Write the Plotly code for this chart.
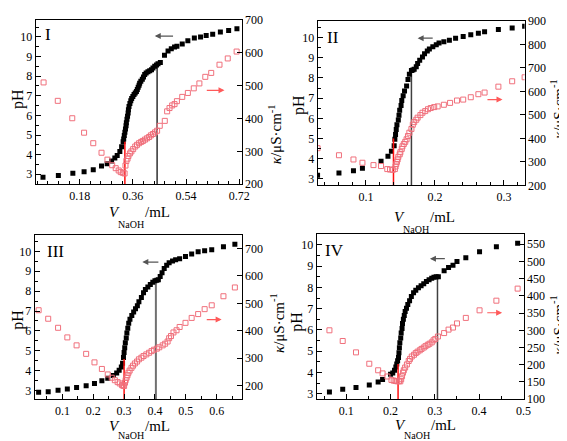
import plotly.graph_objects as go

# ---------------- data ----------------
# Panel I
xI_ph = [0.056,0.108,0.157,0.195,0.226,0.254,0.273,0.288,0.299,0.307,0.316,0.322,0.327,0.329,0.331,0.333,0.335,0.337,0.338,0.340,0.342,0.344,0.345,0.347,0.350,0.353,0.356,0.360,0.364,0.368,0.372,0.375,0.378,0.381,0.383,0.387,0.392,0.396,0.400,0.405,0.411,0.417,0.423,0.428,0.434,0.440,0.445,0.453,0.467,0.479,0.490,0.501,0.509,0.527,0.546,0.568,0.589,0.608,0.630,0.656,0.684,0.712]
pH_I = [2.85,2.93,3.05,3.13,3.23,3.42,3.54,3.67,3.83,3.96,4.16,4.40,4.65,4.80,4.98,5.14,5.31,5.47,5.63,5.80,5.96,6.12,6.29,6.45,6.61,6.74,6.86,6.96,7.06,7.14,7.22,7.32,7.43,7.53,7.64,7.74,7.84,7.96,8.09,8.16,8.22,8.28,8.33,8.41,8.50,8.57,8.63,8.69,9.07,9.28,9.40,9.48,9.52,9.64,9.80,9.94,10.0,10.07,10.13,10.25,10.33,10.41]
xI_k = [0.058,0.106,0.155,0.195,0.226,0.254,0.274,0.290,0.302,0.312,0.319,0.326,0.332,0.335,0.338,0.342,0.345,0.350,0.355,0.361,0.368,0.374,0.381,0.388,0.394,0.401,0.408,0.415,0.421,0.428,0.435,0.442,0.451,0.468,0.476,0.484,0.493,0.501,0.509,0.527,0.546,0.566,0.585,0.605,0.625,0.653,0.681,0.711]
k_I = [510,454,401,357,325,296,275,258,249,242,237,235,233,257,271,278,286,294,300,307,315,320,325,329,332,336,340,344,349,353,358,363,378,393,422,432,440,444,453,466,478,492,507,527,539,564,583,604]

# Panel II
xII_ph = [0.030,0.061,0.082,0.095,0.122,0.132,0.137,0.141,0.142,0.143,0.144,0.145,0.147,0.148,0.149,0.151,0.152,0.154,0.156,0.159,0.161,0.163,0.166,0.168,0.170,0.173,0.175,0.178,0.182,0.185,0.189,0.192,0.197,0.202,0.206,0.213,0.221,0.230,0.241,0.252,0.263,0.272,0.292,0.312,0.330]
pH_II = [3.18,3.29,3.40,3.53,3.88,4.13,4.37,4.65,4.97,5.20,5.45,5.68,5.92,6.16,6.40,6.64,6.88,7.12,7.36,7.60,7.92,8.19,8.37,8.40,8.43,8.56,8.72,8.88,9.04,9.20,9.33,9.44,9.55,9.65,9.73,9.79,9.87,9.97,10.05,10.14,10.21,10.29,10.40,10.48,10.56]
xII_k = [0.030,0.061,0.082,0.095,0.111,0.122,0.131,0.135,0.139,0.142,0.143,0.144,0.145,0.146,0.147,0.149,0.150,0.152,0.153,0.155,0.157,0.159,0.161,0.163,0.166,0.168,0.170,0.173,0.175,0.179,0.182,0.186,0.190,0.194,0.199,0.204,0.213,0.222,0.232,0.241,0.252,0.263,0.272,0.292,0.312,0.330]
k_II = [358,328,310,296,286,282,269,267,266,269,280,291,300,310,321,332,341,355,366,376,385,396,410,424,440,458,469,479,488,499,509,516,524,529,533,536,543,551,561,565,575,588,595,620,643,660]

# Panel III
xIII_ph = [0.023,0.054,0.086,0.116,0.146,0.177,0.204,0.228,0.247,0.265,0.276,0.284,0.291,0.295,0.298,0.300,0.302,0.304,0.307,0.309,0.312,0.315,0.319,0.325,0.331,0.337,0.343,0.348,0.356,0.363,0.369,0.377,0.385,0.393,0.400,0.406,0.411,0.417,0.423,0.430,0.438,0.446,0.457,0.467,0.480,0.499,0.519,0.540,0.561,0.584,0.622,0.659]
pH_III = [2.92,2.95,3.02,3.08,3.16,3.24,3.36,3.50,3.62,3.76,3.89,4.02,4.19,4.38,4.67,4.92,5.16,5.40,5.65,5.89,6.13,6.38,6.59,6.78,6.95,7.11,7.27,7.46,7.68,7.92,8.08,8.21,8.33,8.44,8.52,8.54,8.57,8.73,8.92,9.14,9.30,9.43,9.51,9.58,9.63,9.74,9.87,9.98,10.03,10.08,10.23,10.36]
xIII_k = [0.023,0.054,0.086,0.116,0.146,0.177,0.204,0.228,0.247,0.260,0.270,0.279,0.286,0.293,0.297,0.300,0.303,0.305,0.308,0.311,0.314,0.318,0.324,0.329,0.335,0.342,0.348,0.356,0.363,0.372,0.381,0.389,0.397,0.406,0.414,0.425,0.433,0.441,0.446,0.452,0.460,0.470,0.480,0.499,0.519,0.540,0.561,0.584,0.622,0.659]
k_III = [475,444,411,376,347,316,285,261,241,229,220,213,208,202,200,199,211,220,229,238,247,255,265,273,281,288,296,302,308,314,320,326,331,335,340,347,353,361,373,381,394,402,414,429,447,461,479,493,526,558]

# Panel IV
xIV_ph = [0.062,0.092,0.122,0.152,0.172,0.182,0.200,0.205,0.209,0.212,0.214,0.216,0.218,0.219,0.220,0.221,0.223,0.224,0.226,0.227,0.229,0.231,0.233,0.236,0.239,0.243,0.247,0.252,0.257,0.263,0.269,0.275,0.281,0.287,0.293,0.298,0.303,0.308,0.321,0.331,0.341,0.350,0.370,0.401,0.439,0.487]
pH_IV = [3.08,3.21,3.29,3.41,3.55,3.67,3.91,3.97,4.10,4.25,4.40,4.55,4.70,4.93,5.16,5.39,5.62,5.85,6.07,6.30,6.50,6.68,6.87,7.02,7.20,7.37,7.57,7.75,7.87,7.98,8.08,8.17,8.28,8.36,8.43,8.48,8.50,8.50,8.78,8.94,9.04,9.22,9.39,9.68,9.91,10.08]
xIV_k = [0.062,0.092,0.122,0.152,0.172,0.182,0.193,0.202,0.207,0.211,0.215,0.219,0.222,0.224,0.226,0.228,0.230,0.233,0.237,0.241,0.244,0.248,0.253,0.257,0.261,0.266,0.270,0.275,0.279,0.284,0.288,0.293,0.297,0.301,0.307,0.321,0.331,0.341,0.350,0.370,0.401,0.439,0.487]
k_IV = [300,269,236,203,184,175,166,156,154,153,152,152,152,158,167,177,184,192,201,211,217,224,229,234,238,242,246,250,254,258,261,265,271,275,282,292,302,308,320,336,358,386,421]

panel_labels = ["I", "II", "III", "IV"]
# equivalence-point markers (x, pH at top of line)
red_eq_x = [0.333, 0.140, 0.300, 0.217]
red_eq_top = [4.65, 5.0, 4.59, 4.4]
grey_eq_x = [0.442, 0.166, 0.403, 0.306]
grey_eq_top = [8.66, 8.40, 8.55, 8.50]
# arrows: black (pH axis, pointing left), red (kappa axis, pointing right)
blk_arrow_head = [0.434, 0.175, 0.359, 0.289]
blk_arrow_tail = [0.501, 0.199, 0.416, 0.326]
blk_arrow_pH = [10.04, 9.97, 9.46, 9.35]
red_arrow_tail = [0.605, 0.274, 0.563, 0.415]
red_arrow_head = [0.670, 0.298, 0.616, 0.452]
red_arrow_k = [486, 565, 441, 351]

# x ticks
x_dtick = [0.18, 0.1, 0.1, 0.1]
x_minor = [0.036, 0.02, 0.05, 0.05]
k_dtick = [100, 100, 100, 50]

# ---------------- layout geometry (pixels) ----------------
W, H = 567, 441
frames = [  # left, right, top, bottom
    (28, 237, 5, 175),
    (314, 524, 6, 176),
    (27, 237, 227, 397),
    (313, 523, 226, 397),
]
x_ranges = [[0.031, 0.728], [0.030, 0.330], [0.010, 0.681], [0.033, 0.5005]]
ph_ranges = [[2.48, 10.87], [2.68, 10.83], [2.56, 10.83], [2.73, 10.52]]
k_ranges = [[199.5, 700.5], [199.5, 900.5], [150, 750], [99.5, 580]]
grey_colors = ["#303030", "#404040", "#707070", "#404040"]
grey_widths = [1.5, 1.5, 2.0, 1.5]

data = [
    (xI_ph, pH_I, xI_k, k_I),
    (xII_ph, pH_II, xII_k, k_II),
    (xIII_ph, pH_III, xIII_k, k_III),
    (xIV_ph, pH_IV, xIV_k, k_IV),
]

FONT = "Liberation Serif"
BLACK = "#000000"
PINK = "#f0707c"
RED = "#ff1010"

fig = go.Figure()
layout = dict(width=W, height=H, margin=dict(l=0, r=0, t=0, b=0),
              paper_bgcolor="white", plot_bgcolor="white", showlegend=False,
              font=dict(family=FONT, size=12, color="black"))
annotations = []

def px2paper(xp, yp):
    return xp / W, 1 - yp / H

for i in range(4):
    xb, yb, xr, yr = data[i]
    xname = "x" if i == 0 else f"x{i+1}"
    yph = f"y{2*i+1}" if i > 0 else "y"
    yk = f"y{2*i+2}"
    xkey = "xaxis" if i == 0 else f"xaxis{i+1}"
    yphkey = "yaxis" if i == 0 else f"yaxis{2*i+1}"
    ykkey = f"yaxis{2*i+2}"
    l, r, t, b = frames[i]
    xd = [l / W, r / W]
    yd = [1 - b / H, 1 - t / H]

    layout[xkey] = dict(domain=xd, anchor=yph, range=x_ranges[i], dtick=x_dtick[i], tick0=0,
                        showgrid=False, zeroline=False, showline=True, linecolor="black",
                        linewidth=1, mirror=True, ticks="inside", ticklen=5, tickcolor="black",
                        ticklabeloverflow="allow",
                        minor=dict(dtick=x_minor[i], tick0=0, ticks="inside", ticklen=3, tickcolor="black"),
                        tickfont=dict(family=FONT, size=12))
    layout[yphkey] = dict(domain=yd, anchor=xname, range=ph_ranges[i], dtick=1, tick0=0,
                          showgrid=False, zeroline=False, showline=True, linecolor="black",
                          linewidth=1, mirror=True, ticks="inside", ticklen=5, tickcolor="black",
                          ticklabeloverflow="allow",
                          minor=dict(dtick=0.5, tick0=0, ticks="inside", ticklen=3, tickcolor="black"),
                          tickfont=dict(family=FONT, size=12))
    layout[ykkey] = dict(domain=yd, anchor=xname, overlaying=yph, side="right",
                         range=k_ranges[i], dtick=k_dtick[i], tick0=0,
                         showgrid=False, zeroline=False, showline=True, linecolor="black",
                         linewidth=1, ticks="inside", ticklen=5, tickcolor="black",
                         ticklabeloverflow="allow",
                         tickfont=dict(family=FONT, size=12))

    # vertical equivalence lines
    fig.add_trace(go.Scatter(x=[grey_eq_x[i], grey_eq_x[i]], y=[ph_ranges[i][0], grey_eq_top[i]],
                             mode="lines", line=dict(color=grey_colors[i], width=grey_widths[i]),
                             xaxis=xname, yaxis=yph, hoverinfo="skip"))
    fig.add_trace(go.Scatter(x=xr, y=yr, mode="markers",
                             marker=dict(symbol="square-open", size=5, color=PINK, line=dict(width=1, color=PINK)),
                             xaxis=xname, yaxis=yk))
    fig.add_trace(go.Scatter(x=xb, y=yb, mode="markers",
                             marker=dict(symbol="square", size=5, color=BLACK),
                             xaxis=xname, yaxis=yph))
    fig.add_trace(go.Scatter(x=[red_eq_x[i], red_eq_x[i]], y=[ph_ranges[i][0], red_eq_top[i]],
                             mode="lines", line=dict(color=RED, width=1.5),
                             xaxis=xname, yaxis=yph, hoverinfo="skip"))

    # arrows
    annotations.append(dict(x=blk_arrow_head[i], y=blk_arrow_pH[i], ax=blk_arrow_tail[i], ay=blk_arrow_pH[i],
                            xref=xname, yref=yph, axref=xname, ayref=yph, text="", showarrow=True,
                            arrowhead=2, arrowsize=1, arrowwidth=1.2, arrowcolor="#555555"))
    annotations.append(dict(x=red_arrow_head[i], y=red_arrow_k[i], ax=red_arrow_tail[i], ay=red_arrow_k[i],
                            xref=xname, yref=yk, axref=xname, ayref=yk, text="", showarrow=True,
                            arrowhead=2, arrowsize=1, arrowwidth=1.2, arrowcolor="#ff5a5a"))

# text labels (pixel positions)
numeral_pos = [(41, 20), (330, 23), (48, 244), (331, 243)]
ph_title_pos = [(10, 87), (295, 93), (10, 315), (293, 317)]
k_title_pos = [(271, 123), (557, 97), (273, 318), (557, 320)]
v_title_pos = [(108, 203), (397, 209), (108, 424), (398, 423)]

for i in range(4):
    px, py = px2paper(*numeral_pos[i])
    annotations.append(dict(x=px, y=py, xref="paper", yref="paper", text=panel_labels[i], showarrow=False,
                            font=dict(family=FONT, size=17), xanchor="center", yanchor="middle"))
    px, py = px2paper(*ph_title_pos[i])
    annotations.append(dict(x=px, y=py, xref="paper", yref="paper", text="pH", showarrow=False, textangle=-90,
                            font=dict(family=FONT, size=16), xanchor="center", yanchor="middle"))
    px, py = px2paper(*k_title_pos[i])
    annotations.append(dict(x=px, y=py, xref="paper", yref="paper", text="<i>κ</i>/μS·cm<sup>-1</sup>",
                            showarrow=False, textangle=-90,
                            font=dict(family=FONT, size=15), xanchor="center", yanchor="middle"))
    vx, vy = v_title_pos[i]
    px, py = px2paper(vx, vy)
    annotations.append(dict(x=px, y=py, xref="paper", yref="paper", text="<i>V</i>", showarrow=False,
                            font=dict(family=FONT, size=15), xanchor="center", yanchor="middle"))
    px, py = px2paper(vx + 17, min(vy + 13, 434))
    annotations.append(dict(x=px, y=py, xref="paper", yref="paper", text="NaOH", showarrow=False,
                            font=dict(family=FONT, size=10), xanchor="center", yanchor="middle"))
    px, py = px2paper(vx + 44, vy)
    annotations.append(dict(x=px, y=py, xref="paper", yref="paper", text="/mL", showarrow=False,
                            font=dict(family=FONT, size=15), xanchor="center", yanchor="middle"))

layout["annotations"] = annotations
fig.update_layout(**layout)
fig.write_html("out.html")
